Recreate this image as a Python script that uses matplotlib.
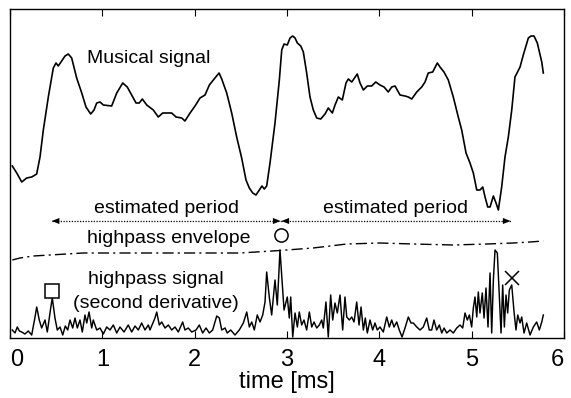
import numpy as np
import matplotlib
matplotlib.use("Agg")
import matplotlib.pyplot as plt

plt.rcParams['font.family'] = ['Liberation Sans', 'DejaVu Sans']

# ---- data (time in ms, amplitudes in arbitrary display units) ----
music_t = [0.025, 0.073, 0.127, 0.181, 0.235, 0.289, 0.325, 0.361, 0.415, 0.469, 0.498, 0.523,
           0.560, 0.596, 0.631, 0.668, 0.722, 0.777, 0.823, 0.874, 0.910, 0.939, 0.975, 1.011,
           1.101, 1.156, 1.221, 1.270, 1.318, 1.365, 1.400, 1.433, 1.481, 1.552, 1.606, 1.654,
           1.697, 1.751, 1.798, 1.860, 1.895, 1.950, 2.004, 2.058, 2.112, 2.159, 2.202, 2.264,
           2.293, 2.347, 2.401, 2.455, 2.509, 2.556, 2.592, 2.629, 2.664, 2.700, 2.729, 2.754,
           2.780, 2.816, 2.870, 2.917, 2.943, 2.968, 3.003, 3.033, 3.062, 3.087, 3.112, 3.149,
           3.177, 3.213, 3.249, 3.285, 3.322, 3.365, 3.412, 3.447, 3.491, 3.520, 3.556, 3.599,
           3.639, 3.664, 3.701, 3.761, 3.791, 3.827, 3.870, 3.917, 3.961, 4.007, 4.051, 4.097,
           4.134, 4.170, 4.224, 4.278, 4.314, 4.351, 4.405, 4.459, 4.495, 4.530, 4.578, 4.628,
           4.657, 4.700, 4.747, 4.801, 4.855, 4.892, 4.939, 4.982, 5.018, 5.055, 5.090, 5.120,
           5.145, 5.174, 5.199, 5.235, 5.264, 5.289, 5.325, 5.361, 5.397, 5.434, 5.469, 5.524,
           5.559, 5.614, 5.643, 5.675, 5.711, 5.759, 5.776]
music_v = [172, 165, 156, 160, 161, 164, 181, 208, 241, 270, 275, 272,
           277, 282, 284, 280, 260, 245, 231, 224, 228, 235, 236, 233,
           232, 245, 255, 251, 243, 235, 235, 239, 233, 228, 221, 225,
           225, 225, 221, 220, 217, 225, 232, 240, 243, 253, 258, 265,
           259, 245, 225, 201, 180, 158, 150, 145, 143, 148, 152, 149,
           152, 175, 215, 258, 288, 294, 293, 300, 302, 300, 295, 292,
           286, 265, 241, 228, 220, 219, 224, 230, 225, 233, 241, 238,
           255, 259, 256, 264, 255, 248, 252, 252, 256, 253, 251, 246,
           251, 252, 243, 242, 241, 239, 246, 251, 256, 265, 266, 275,
           271, 266, 258, 241, 221, 208, 185, 175, 165, 148, 148, 151,
           141, 131, 131, 142, 135, 128, 151, 181, 201, 228, 261, 271,
           283, 300, 302, 302, 295, 276, 265]

hp_t = [0.025, 0.054, 0.079, 0.101, 0.127, 0.162, 0.198, 0.235, 0.271, 0.289, 0.317, 0.343,
        0.379, 0.404, 0.441, 0.458, 0.487, 0.512, 0.542, 0.571, 0.599, 0.625, 0.650, 0.679,
        0.704, 0.729, 0.758, 0.783, 0.812, 0.831, 0.856, 0.885, 0.902, 0.939, 0.975, 1.011,
        1.047, 1.083, 1.119, 1.156, 1.191, 1.235, 1.281, 1.318, 1.354, 1.390, 1.426, 1.462,
        1.498, 1.516, 1.570, 1.589, 1.617, 1.643, 1.679, 1.715, 1.751, 1.787, 1.823, 1.870,
        1.895, 1.931, 1.968, 2.015, 2.050, 2.087, 2.123, 2.159, 2.195, 2.239, 2.267, 2.293,
        2.329, 2.353, 2.390, 2.437, 2.483, 2.527, 2.564, 2.592, 2.618, 2.646, 2.678, 2.708,
        2.737, 2.762, 2.780, 2.808, 2.834, 2.870, 2.895, 2.924, 2.968, 3.003, 3.025, 3.040,
        3.062, 3.087, 3.112, 3.133, 3.159, 3.184, 3.213, 3.242, 3.268, 3.293, 3.322, 3.350,
        3.376, 3.393, 3.422, 3.447, 3.473, 3.495, 3.520, 3.545, 3.574, 3.603, 3.628, 3.647,
        3.675, 3.701, 3.726, 3.755, 3.780, 3.802, 3.827, 3.848, 3.870, 3.899, 3.928, 3.953,
        3.978, 4.007, 4.043, 4.080, 4.108, 4.134, 4.159, 4.188, 4.216, 4.246, 4.278, 4.314,
        4.343, 4.368, 4.405, 4.441, 4.476, 4.513, 4.541, 4.567, 4.592, 4.621, 4.650, 4.676,
        4.701, 4.730, 4.766, 4.801, 4.838, 4.874, 4.903, 4.928, 4.953, 4.975, 5.000, 5.018,
        5.036, 5.055, 5.072, 5.090, 5.115, 5.134, 5.155, 5.177, 5.199, 5.217, 5.235, 5.253,
        5.278, 5.300, 5.318, 5.336, 5.354, 5.372, 5.390, 5.408, 5.434, 5.459, 5.480, 5.499,
        5.524, 5.542, 5.567, 5.596, 5.632, 5.668, 5.704, 5.733, 5.759, 5.776]
hp_v = [8, 5, 11, 7, 6, 4, 7, 3, 21, 31, 18, 10,
        18, 6, 30, 40, 20, 8, 11, 3, 12, 8, 18, 10,
        20, 10, 18, 6, 23, 15, 26, 10, 18, 8, 10, 4,
        11, 8, 13, 5, 11, 6, 13, 6, 12, 8, 15, 8,
        13, 8, 20, 26, 13, 16, 10, 13, 8, 11, 6, 16,
        8, 10, 6, 8, 13, 5, 10, 5, 8, 22, 20, 8,
        10, 5, 8, 3, 8, 15, 26, 11, 16, 8, 23, 16,
        23, 36, 66, 41, 23, 58, 33, 88, 28, 41, 20, 41,
        1, 25, 11, 26, 13, 18, 8, 26, 11, 16, 10, 13,
        18, 10, 36, 1, 43, 18, 35, 25, 43, 8, 41, 21,
        18, 21, 16, 36, 13, 31, 8, 20, 5, 18, 8, 15,
        8, 11, 6, 21, 11, 18, 11, 16, 8, 1, 10, 21,
        15, 15, 11, 8, 11, 20, 8, 8, 18, 8, 13, 5,
        10, 5, 8, 5, 10, 13, 10, 25, 18, 23, 11, 30,
        41, 21, 46, 25, 45, 20, 50, 11, 65, 5, 58, 88,
        85, 41, 5, 53, 11, 43, 25, 48, 53, 26, 8, 23,
        15, 21, 5, 15, 3, 11, 16, 8, 16, 23]

env_t = [0.025, 0.108, 0.252, 0.433, 0.791, 1.441, 2.491, 2.924, 3.282, 3.466, 3.647,
         4.007, 4.365, 4.798, 5.163, 5.451, 5.632, 5.776]
env_v = [78, 80, 82, 83, 85, 85, 85, 87.5, 90, 92, 94, 95, 94, 93, 94, 95, 96, 97]

# pitch-mark (period boundary) positions
mark_t = [0.452, 2.93, 5.441]
mark_v = [47, 103, 60]
mark_style = ['s', 'o', 'x']
period_level = 117
period_label = 'estimated period'

xticks = [0, 1, 2, 3, 4, 5, 6]

# ---- figure ----
fig = plt.figure(figsize=(5.71, 3.98), dpi=100)
ax = fig.add_axes([10/571, 1 - 338/398, 554/571, 329/398])

ax.plot(music_t, music_v, color='black', lw=1.2)
ax.plot(hp_t, hp_v, color='black', lw=1.05)
ax.plot(env_t, env_v, color='black', lw=1.0, dashes=(8, 3, 1.5, 3))

for t, v, m in zip(mark_t, mark_v, mark_style):
    ax.plot(t, v, marker=m, ms=9.5, mfc='white', mec='black', mew=1.1, ls='none')

# estimated period arrows
for a, b in [(mark_t[0], mark_t[1]), (mark_t[1] + 0.01, mark_t[2] - 0.02)]:
    ax.plot([a, b], [period_level, period_level], color='black', lw=0.9, ls=(0, (1, 1.2)))
    for start, end in [(a + 0.12, a), (b - 0.12, b)]:
        ax.annotate('', xy=(end, period_level), xytext=(start, period_level),
                    arrowprops=dict(arrowstyle='-|>,head_length=0.55,head_width=0.22',
                                    color='black', lw=0, shrinkA=0, shrinkB=0))
    ax.text((a + b) / 2, period_level + 8, period_label, ha='center', va='baseline',
            fontsize=14)

ax.text(1.5, 275, 'Musical signal', ha='center', va='baseline', fontsize=14)
ax.text(1.715, 95, 'highpass envelope', ha='center', va='baseline', fontsize=14)
ax.text(1.58, 54, 'highpass signal', ha='center', va='baseline', fontsize=14)
ax.text(1.585, 30, '(second derivative)', ha='center', va='baseline', fontsize=14)

ax.set_xlim(0, 6)
ax.set_ylim(0, 329)
ax.set_xticks(xticks)
ax.set_xticklabels([str(x) for x in xticks], fontsize=17)
ax.tick_params(axis='x', direction='in', length=5, width=0.8, top=True, pad=8)
ax.set_yticks([])
lbls = ax.get_xticklabels()
lbls[0].set_ha('left')
lbls[-1].set_ha('right')
ax.set_xlabel('time [ms]', fontsize=17, labelpad=0)
for s in ax.spines.values():
    s.set_linewidth(1.0)

fig.savefig('out.png', dpi=100)
